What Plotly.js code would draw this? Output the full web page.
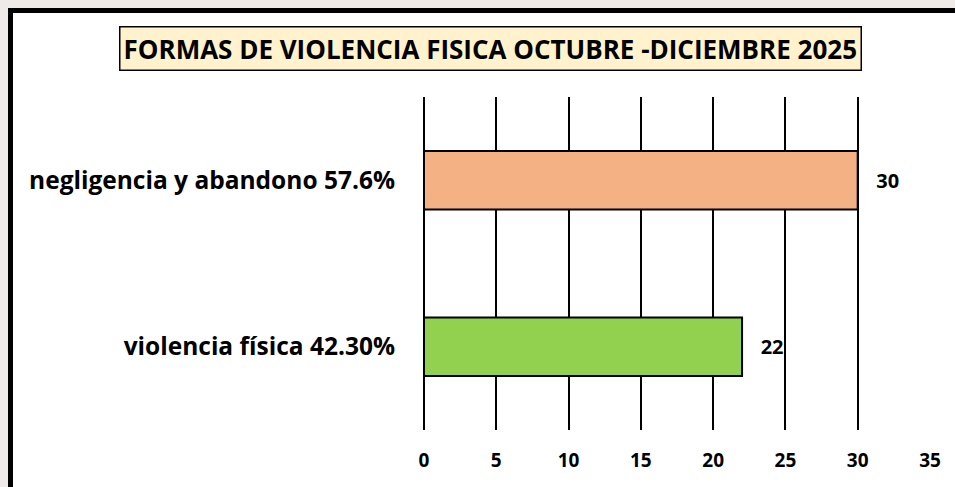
<!DOCTYPE html>
<html>
<head>
<meta charset="utf-8">
<script src="https://cdn.plot.ly/plotly-3.0.1.min.js"></script>
<style>
  html, body { margin: 0; padding: 0; width: 955px; height: 487px; overflow: hidden; background: #eeebe8; }
  #frame { position: absolute; left: 8px; top: 8px; width: 980px; height: 520px; background: #ffffff; border: 5px solid #000; box-sizing: border-box; }
  #chart { position: absolute; left: 0; top: 0; width: 955px; height: 487px; }
</style>
</head>
<body>
<div id="frame"></div>
<div id="chart"></div>
<script>
// Data (top to bottom as shown)
const categories = ['negligencia y abandono 57.6%', 'violencia física 42.30%'];
const values = [30, 22];
const barColors = ['#f4b183', '#92d050'];
const xTickValues = [0, 5, 10, 15, 20, 25, 30, 35];
const titleText = 'FORMAS DE VIOLENCIA FISICA OCTUBRE -DICIEMBRE 2025';

const FONT = '"Open Sans", Lato, sans-serif';

const trace = {
  type: 'bar',
  orientation: 'h',
  y: categories,
  x: values,
  marker: { color: barColors, line: { color: '#000000', width: 2 } },
  text: values.map(v => String(v)),
  texttemplate: '   %{text}',
  textposition: 'outside',
  textfont: { family: FONT, size: 20, color: '#000000', weight: 'bold' },
  cliponaxis: false,
  hoverinfo: 'none'
};

const layout = {
  width: 955,
  height: 487,
  margin: { l: 424, r: 25, t: 97, b: 57 },
  paper_bgcolor: 'rgba(0,0,0,0)',
  plot_bgcolor: 'rgba(0,0,0,0)',
  showlegend: false,
  bargap: 0.65,
  xaxis: {
    range: [0, 35],
    tickvals: xTickValues,
    ticktext: xTickValues.map(String),
    showgrid: true,
    gridcolor: '#000000',
    gridwidth: 2,
    zeroline: true,
    zerolinecolor: '#000000',
    zerolinewidth: 2,
    showline: false,
    ticks: '',
    ticklabelstandoff: 17,
    tickfont: { family: FONT, size: 19, color: '#000000', weight: 'bold' },
    fixedrange: true
  },
  yaxis: {
    type: 'category',
    autorange: 'reversed',
    showgrid: false,
    zeroline: false,
    showline: false,
    ticks: '',
    ticklabelstandoff: 28,
    tickfont: { family: FONT, size: 24.5, color: '#000000', weight: 'bold' },
    fixedrange: true
  },
  annotations: [{
    text: '<b>' + titleText + '</b>',
    xref: 'paper', yref: 'paper',
    x: (490 - 424) / 506, y: 1 + (97 - 48) / 333,
    xanchor: 'center', yanchor: 'middle',
    showarrow: false,
    font: { family: FONT, size: 26, color: '#000000' },
    bgcolor: '#fff2cc',
    bordercolor: '#000000',
    borderwidth: 1.5,
    borderpad: 3
  }]
};

Plotly.newPlot('chart', [trace], layout, { displayModeBar: false, staticPlot: true });
</script>
</body>
</html>
